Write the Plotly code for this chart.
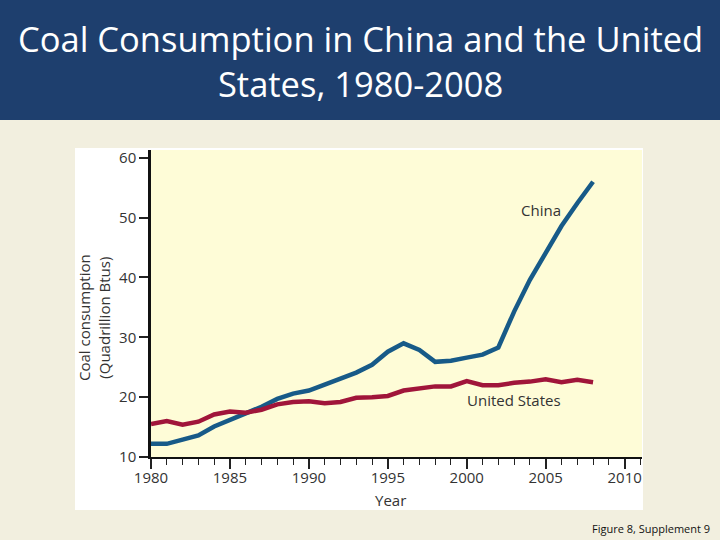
import plotly.graph_objects as go

years = list(range(1980, 2009))
china = [12.2, 12.2, 12.9, 13.6, 15.1, 16.3, 17.3, 18.4, 19.7, 20.6, 21.1, 22.1, 23.0, 24.1, 25.4,
         27.6, 29.0, 27.9, 25.9, 26.1, 26.6, 27.1, 28.3, 34.3, 39.6, 44.2, 48.6, 52.4, 56.0]
us = [15.5, 16.0, 15.4, 15.9, 17.1, 17.6, 17.4, 17.9, 18.8, 19.2, 19.3, 19.0, 19.2, 19.9, 20.0,
      20.2, 21.1, 21.5, 21.8, 21.8, 22.7, 22.0, 22.0, 22.4, 22.6, 23.0, 22.5, 22.9, 22.5]

x_major = [1980, 1985, 1990, 1995, 2000, 2005, 2010]
y_ticks = [10, 20, 30, 40, 50, 60]

W, H = 720, 540
def px(x):
    return x / W
def py(y):
    return 1 - y / H

fig = go.Figure()
fig.add_trace(go.Scatter(x=years, y=china, mode="lines", name="China",
                         line=dict(color="#175A88", width=4.5), showlegend=False))
fig.add_trace(go.Scatter(x=years, y=us, mode="lines", name="United States",
                         line=dict(color="#A0153A", width=4.5), showlegend=False))

font = "Open Sans"
fig.update_layout(
    width=W, height=H, autosize=False,
    margin=dict(l=0, r=0, t=0, b=0, pad=0, autoexpand=False),
    paper_bgcolor="#F2EFDF",
    plot_bgcolor="#FEFCD7",
    xaxis=dict(domain=[px(151), px(642)], range=[1980, 2011.1],
               tickvals=x_major, ticks="outside", ticklen=10, tickwidth=1.5, tickcolor="#222",
               ticklabelstandoff=-4,
               showline=True, linecolor="#111", linewidth=2, showgrid=False, zeroline=False,
               tickfont=dict(family=font, size=15, color="#333"),
               minor=dict(dtick=1, tick0=1980, ticks="outside", ticklen=6, tickwidth=1, tickcolor="#222", showgrid=False)),
    yaxis=dict(domain=[py(457), py(150)], range=[10, 61.3],
               tickvals=y_ticks, ticks="outside", ticklen=9, tickwidth=1.5, tickcolor="#222",
               showline=True, linecolor="#111", linewidth=2.5, showgrid=False, zeroline=False,
               tickfont=dict(family=font, size=15, color="#333")),
    shapes=[
        dict(type="rect", xref="paper", yref="paper", x0=0, x1=1, y0=py(120), y1=1,
             fillcolor="#1E3F6E", line=dict(width=0), layer="below"),
        dict(type="rect", xref="paper", yref="paper", x0=px(75), x1=px(643), y0=py(510), y1=py(148),
             fillcolor="#FFFFFF", line=dict(width=0), layer="below"),
        dict(type="rect", xref="paper", yref="paper", x0=px(151), x1=px(642), y0=py(457), y1=py(150),
             fillcolor="#FEFCD7", line=dict(width=0), layer="below"),
    ],
    annotations=[
        dict(text="Coal Consumption in China and the United<br>States, 1980-2008", xref="paper", yref="paper",
             x=0.5, y=py(61), xanchor="center", yanchor="middle", showarrow=False,
             font=dict(family=font, size=34.5, color="white")),
        dict(text="China", xref="x", yref="y", x=2004.7, y=51.2, showarrow=False,
             xanchor="center", yanchor="middle", font=dict(family=font, size=15, color="#333")),
        dict(text="United States", xref="x", yref="y", x=2003.0, y=19.6, showarrow=False,
             xanchor="center", yanchor="middle", font=dict(family=font, size=15, color="#333")),
        dict(text="Year", xref="paper", yref="paper", x=px(373), y=py(500), xanchor="left", yanchor="middle",
             showarrow=False, font=dict(family=font, size=15, color="#333")),
        dict(text="Coal consumption<br>(Quadrillion Btus)", xref="paper", yref="paper", x=px(94), y=py(318),
             xanchor="center", yanchor="middle",
             textangle=-90, showarrow=False, font=dict(family=font, size=15, color="#333")),
        dict(text="Figure 8, Supplement 9", xref="paper", yref="paper", x=px(712), y=py(528),
             xanchor="right", yanchor="middle", showarrow=False, font=dict(family=font, size=11, color="#111")),
    ],
)
fig.write_html("out.html", config={"responsive": False, "displayModeBar": False},
               post_script="document.body.style.margin='0';document.body.style.background='#F2EFDF';")
